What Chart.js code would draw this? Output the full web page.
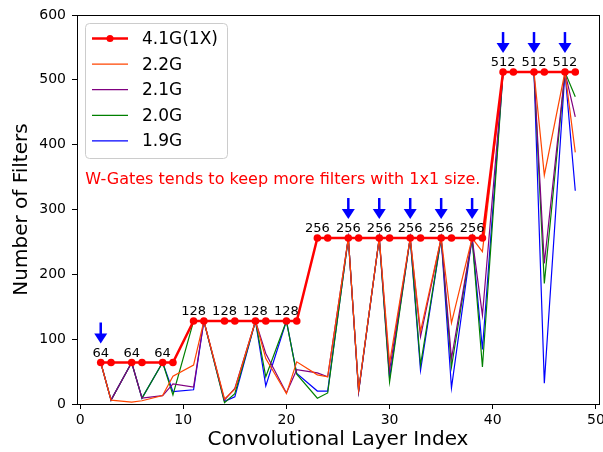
<!DOCTYPE html>
<html>
<head>
<meta charset="utf-8">
<script src="https://cdn.jsdelivr.net/npm/chart.js@4.4.0/dist/chart.umd.min.js"></script>
<style>
html, body { margin: 0; padding: 0; background: #fff; }
</style>
</head>
<body>
<canvas id="filterChart" width="603" height="452"></canvas>
<script>
// layer index of each pruned conv layer (ResNet-50)
const layerIdx = [2,3,5,6,8,9,11,12,14,15,17,18,20,21,23,24,26,27,29,30,32,33,35,36,38,39,41,42,44,45,47,48];
const full = [64,64,64,64,64,64,128,128,128,128,128,128,128,128,256,256,256,256,256,256,256,256,256,256,256,256,512,512,512,512,512,512];
const g22 = [64,6,3,5,13,43,60,128,8,23,128,70,16,65,45,42,256,22,256,63,256,112,256,125,256,235,512,512,512,353,512,388];
const g21 = [64,6,64,9,13,31,26,128,6,24,128,78,17,53,48,42,256,19,256,52,256,104,256,70,256,137,512,512,512,217,512,443];
const g20 = [64,6,64,9,64,14,128,128,2,16,128,42,128,46,9,17,256,20,256,34,256,60,256,57,256,57,512,512,512,186,512,474];
const g19 = [64,6,64,9,64,19,22,128,4,11,128,28,128,47,20,20,256,20,256,40,256,52,256,25,256,84,512,512,512,32,512,329];

const seriesNames = ["4.1G(1X)", "2.2G", "2.1G", "2.0G", "1.9G"];
const seriesColors = ["#ff0000", "#ff4500", "#800080", "#008000", "#0000ff"];

const labelAt = [2,5,8,11,14,17,20,23,26,29,32,35,38,41,44,47];
const arrowAt = [2,26,29,32,35,38,41,44,47];
const xTicks = [0,10,20,30,40,50];
const note = "W-Gates tends to keep more filters with 1x1 size.";

function pts(vals) {
  return layerIdx.map(function (x, i) { return {x: x, y: vals[i]}; });
}

const FONT = "'DejaVu Sans', sans-serif";
Chart.defaults.color = '#000';
Chart.defaults.font.family = FONT;

const extras = {
  id: 'extras',
  afterDatasetsDraw(chart) {
    const ctx = chart.ctx;
    const xs = chart.scales.x, ys = chart.scales.y;
    ctx.save();
    // value labels
    ctx.fillStyle = '#000';
    ctx.font = '13px ' + FONT;
    ctx.textAlign = 'center';
    ctx.textBaseline = 'alphabetic';
    labelAt.forEach(function (lx) {
      const v = full[layerIdx.indexOf(lx)];
      ctx.fillText(String(v), xs.getPixelForValue(lx), ys.getPixelForValue(v) - 6);
    });
    // arrows
    ctx.strokeStyle = 'blue';
    ctx.fillStyle = 'blue';
    ctx.lineWidth = 2.5;
    arrowAt.forEach(function (lx) {
      const v = full[layerIdx.indexOf(lx)];
      const px = xs.getPixelForValue(lx);
      const py = ys.getPixelForValue(v);
      const tip = py - 19, start = py - 40;
      ctx.beginPath();
      ctx.moveTo(px, start);
      ctx.lineTo(px, tip - 8);
      ctx.stroke();
      ctx.beginPath();
      ctx.moveTo(px - 6.5, tip - 10);
      ctx.lineTo(px + 6.5, tip - 10);
      ctx.lineTo(px, tip);
      ctx.closePath();
      ctx.fill();
    });
    // note
    ctx.fillStyle = 'red';
    ctx.font = '16px ' + FONT;
    ctx.textAlign = 'left';
    ctx.fillText(note, xs.getPixelForValue(0.5), ys.getPixelForValue(340));
    ctx.restore();
  },
  afterDraw(chart) {
    const ctx = chart.ctx;
    const a = chart.chartArea;
    ctx.save();
    // frame
    ctx.strokeStyle = '#000';
    ctx.lineWidth = 1;
    ctx.strokeRect(Math.round(a.left) + 0.5, Math.round(a.top) + 0.5, Math.round(a.right - a.left), Math.round(a.bottom - a.top));
    // legend
    const bx = a.left + 8, by = a.top + 8, bw = 142, bh = 135;
    ctx.beginPath();
    ctx.roundRect(bx + 0.5, by + 0.5, bw, bh, 4);
    ctx.fillStyle = 'rgba(255,255,255,0.8)';
    ctx.fill();
    ctx.strokeStyle = '#cccccc';
    ctx.stroke();
    ctx.font = '17px ' + FONT;
    ctx.textAlign = 'left';
    ctx.textBaseline = 'middle';
    seriesNames.forEach(function (name, i) {
      const ry = by + 15.5 + i * 25.6;
      ctx.strokeStyle = seriesColors[i];
      ctx.lineWidth = i === 0 ? 2.5 : 1.2;
      ctx.beginPath();
      ctx.moveTo(bx + 7, ry);
      ctx.lineTo(bx + 43, ry);
      ctx.stroke();
      if (i === 0) {
        ctx.fillStyle = seriesColors[0];
        ctx.beginPath();
        ctx.arc(bx + 25, ry, 3.5, 0, Math.PI * 2);
        ctx.fill();
      }
      ctx.fillStyle = '#000';
      ctx.fillText(name, bx + 57, ry + 1);
    });
    ctx.restore();
  }
};

const thin = function (i) {
  return {
    label: seriesNames[i],
    data: pts([full, g22, g21, g20, g19][i]),
    borderColor: seriesColors[i],
    borderWidth: 1.2,
    pointRadius: 0,
    tension: 0,
    fill: false
  };
};

new Chart(document.getElementById("filterChart"), {
  type: 'line',
  data: {
    datasets: [{
        label: seriesNames[0],
        data: pts(full),
        borderColor: seriesColors[0],
        backgroundColor: seriesColors[0],
        borderWidth: 2.5,
        pointRadius: 3.8,
        pointBackgroundColor: seriesColors[0],
        pointBorderWidth: 0,
        tension: 0,
        fill: false
      },
      thin(1), thin(2), thin(3), thin(4)
    ]
  },
  options: {
    responsive: false,
    animation: false,
    layout: { padding: { top: 15, right: 4, left: 0, bottom: 0 } },
    plugins: {
      legend: { display: false },
      tooltip: { enabled: false }
    },
    scales: {
      x: {
        type: 'linear',
        min: -0.3,
        max: 50.3,
        afterBuildTicks(scale) {
          scale.ticks = xTicks.map(function (v) { return {value: v}; });
        },
        afterFit(scale) {
          scale.height = 48;
          scale.paddingLeft = 0;
          scale.paddingRight = 0;
        },
        grid: { drawOnChartArea: false, drawTicks: true, tickLength: 5, color: '#000' },
        border: { display: true, color: '#000' },
        ticks: { maxRotation: 0, padding: 3, font: { size: 14 }, color: '#000' },
        title: { display: true, text: 'Convolutional Layer Index', font: { size: 20 }, padding: { top: 0, bottom: 0 }, color: '#000' }
      },
      y: {
        min: 0,
        max: 600,
        ticks: { stepSize: 100, padding: 6, font: { size: 14 }, color: '#000' },
        afterFit(scale) {
          scale.width = 77;
          scale.paddingTop = 0;
          scale.paddingBottom = 0;
        },
        grid: { drawOnChartArea: false, drawTicks: true, tickLength: 5, color: '#000' },
        border: { display: true, color: '#000' },
        title: { display: true, text: 'Number of Filters', font: { size: 20 }, padding: { top: 10, bottom: 0 }, color: '#000' }
      }
    }
  },
  plugins: [extras]
});
</script>
</body>
</html>
